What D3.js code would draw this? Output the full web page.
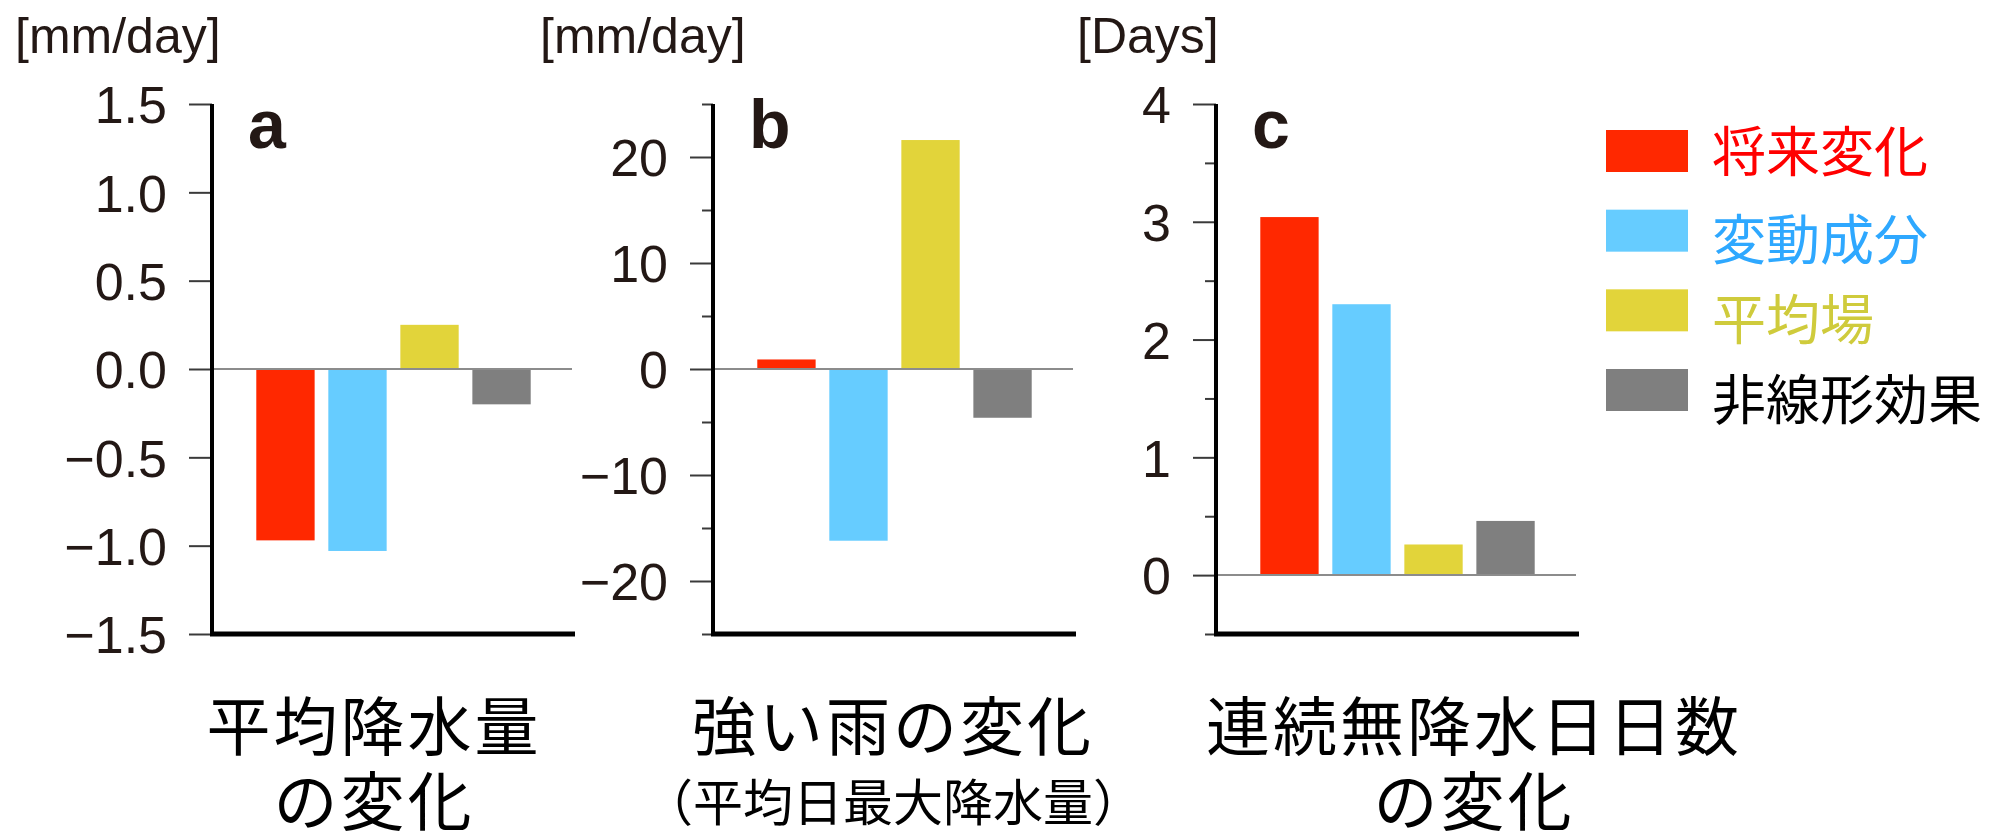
<!DOCTYPE html>
<html>
<head>
<meta charset="utf-8">
<script src="https://cdn.jsdelivr.net/npm/d3@7/dist/d3.min.js"></script>
<style>
  body { margin: 0; background: #fff; }
</style>
</head>
<body>
<svg id="chart" width="1991" height="835"></svg>
<script>
// components (same order in every panel and in the legend)
const CATEGORIES = ["将来変化", "変動成分", "平均場", "非線形効果"]
const BAR_COLORS = ["#ff2800", "#66ccff", "#e2d43a", "#7f7f7f"]
const LEGEND_TEXT_COLORS = ["#ff0000", "#2ea8ff", "#cfcb3c", "#000000"]

// a: mean precipitation change [mm/day]
const MEAN_PRECIP = [-0.97, -1.03, 0.25, -0.2]
const TICKS_A = [-1.5, -1.0, -0.5, 0.0, 0.5, 1.0, 1.5]

// b: heavy rain change (mean annual max daily precip) [mm/day]
const HEAVY_RAIN = [0.9, -16.2, 21.6, -4.6]
const TICKS_B = [-20, -10, 0, 10, 20]
const MINOR_TICKS_B = [-25, -15, -5, 5, 15, 25]

// c: consecutive dry days change [Days]
const DRY_DAYS = [3.04, 2.3, 0.26, 0.46]
const TICKS_C = [0, 1, 2, 3, 4]
const MINOR_TICKS_C = [-0.5, 0.5, 1.5, 2.5, 3.5]

const PANEL_LETTERS = ["a", "b", "c"]
const UNITS = ["[mm/day]", "[mm/day]", "[Days]"]
const TITLES = [["平均降水量", "の変化"], ["強い雨の変化", "（平均日最大降水量）"], ["連続無降水日日数", "の変化"]]

const TEXT_COLOR = "#231815"
const LATIN_FONT = "'Liberation Sans', Arial, Helvetica, sans-serif"
const CJK_FONT = "'Noto Sans CJK JP', 'Noto Sans', sans-serif"

const PLOT_TOP = 104
const PLOT_BOTTOM = 634
const PLOT_WIDTH = 363

const panels = [
  { left: 212, unitX: 15, titleX: 374, values: MEAN_PRECIP, domain: [-1.5, 1.5], ticks: TICKS_A, minor: [], fmt: d3.format(".1f") },
  { left: 713, unitX: 540, titleX: 893, values: HEAVY_RAIN, domain: [-25, 25], ticks: TICKS_B, minor: MINOR_TICKS_B, fmt: d3.format("d") },
  { left: 1216, unitX: 1077, titleX: 1474, values: DRY_DAYS, domain: [-0.5, 4], ticks: TICKS_C, minor: MINOR_TICKS_C, fmt: d3.format("d") }
]

const svg = d3.select("#chart")

panels.forEach(function(p, i) {
  const x = d3.scaleBand().domain(CATEGORIES).range([p.left, p.left + PLOT_WIDTH])
    .paddingInner(0.19).paddingOuter(0.615)
  const y = d3.scaleLinear().domain(p.domain).range([PLOT_BOTTOM, PLOT_TOP])
  const g = svg.append("g").attr("class", "panel")

  // bars
  g.selectAll("rect.bar").data(p.values).enter().append("rect")
    .attr("class", "bar")
    .attr("x", function(d, j) { return x(CATEGORIES[j]) })
    .attr("width", x.bandwidth())
    .attr("y", function(d) { return y(Math.max(0, d)) })
    .attr("height", function(d) { return Math.abs(y(d) - y(0)) })
    .attr("fill", function(d, j) { return BAR_COLORS[j] })

  // zero line
  g.append("line")
    .attr("x1", p.left).attr("x2", p.left + PLOT_WIDTH - 3)
    .attr("y1", y(0)).attr("y2", y(0))
    .attr("stroke", "#8c8c8c").attr("stroke-width", 2)

  // minor ticks
  if (p.minor.length) {
    const minor = g.append("g").attr("transform", "translate(" + p.left + ",0)")
      .call(d3.axisLeft(y).tickValues(p.minor).tickSize(11).tickFormat(""))
    minor.select(".domain").remove()
    minor.selectAll(".tick line").attr("stroke", "#3a3a3a").attr("stroke-width", 2)
  }

  // major ticks + labels
  const major = g.append("g").attr("transform", "translate(" + p.left + ",0)")
    .call(d3.axisLeft(y).tickValues(p.ticks).tickSize(23).tickPadding(22).tickFormat(p.fmt))
  major.select(".domain").remove()
  major.selectAll(".tick line").attr("stroke", "#3a3a3a").attr("stroke-width", 2)
  major.selectAll(".tick text")
    .attr("fill", TEXT_COLOR)
    .style("font-family", LATIN_FONT)
    .style("font-size", "52px")
    .attr("dy", "0.36em")

  // axis frame: y axis and bottom axis
  g.append("line")
    .attr("x1", p.left).attr("x2", p.left)
    .attr("y1", PLOT_TOP).attr("y2", PLOT_BOTTOM + 2)
    .attr("stroke", "#000").attr("stroke-width", 4)
  g.append("line")
    .attr("x1", p.left - 2).attr("x2", p.left + PLOT_WIDTH)
    .attr("y1", PLOT_BOTTOM).attr("y2", PLOT_BOTTOM)
    .attr("stroke", "#000").attr("stroke-width", 5)

  // panel letter
  g.append("text")
    .attr("x", p.left + 36).attr("y", 148)
    .attr("fill", TEXT_COLOR)
    .style("font-family", LATIN_FONT).style("font-weight", "bold").style("font-size", "68px")
    .text(PANEL_LETTERS[i])

  // unit label
  g.append("text")
    .attr("x", p.unitX).attr("y", 53)
    .attr("fill", TEXT_COLOR)
    .style("font-family", LATIN_FONT).style("font-size", "50px")
    .text(UNITS[i])

  // title under the panel
  g.append("text")
    .attr("x", p.titleX).attr("y", 722)
    .attr("text-anchor", "middle").attr("dominant-baseline", "central")
    .attr("fill", "#000")
    .style("font-family", CJK_FONT).style("font-size", "64px").style("letter-spacing", "3px")
    .text(TITLES[i][0])
  const small = TITLES[i][1].length > 5
  g.append("text")
    .attr("x", p.titleX).attr("y", small ? 799 : 797)
    .attr("text-anchor", "middle").attr("dominant-baseline", "central")
    .attr("fill", "#000")
    .style("font-family", CJK_FONT).style("font-size", small ? "50px" : "64px")
    .style("letter-spacing", small ? "0px" : "3px")
    .text(TITLES[i][1])
})

// legend
const legendY = d3.scalePoint().domain(CATEGORIES).range([151, 390])
const legend = svg.append("g").attr("class", "legend")
const items = legend.selectAll("g").data(CATEGORIES).enter().append("g")
  .attr("transform", function(d) { return "translate(1606," + legendY(d) + ")" })
items.append("rect")
  .attr("x", 0).attr("y", -21).attr("width", 82).attr("height", 42)
  .attr("fill", function(d, j) { return BAR_COLORS[j] })
items.append("text")
  .attr("x", 106).attr("y", function(d, j) { return j === 0 ? -3 : 6 })
  .attr("dominant-baseline", "central")
  .attr("fill", function(d, j) { return LEGEND_TEXT_COLORS[j] })
  .style("font-family", CJK_FONT).style("font-size", "54px")
  .text(function(d) { return d })
</script>
</body>
</html>
